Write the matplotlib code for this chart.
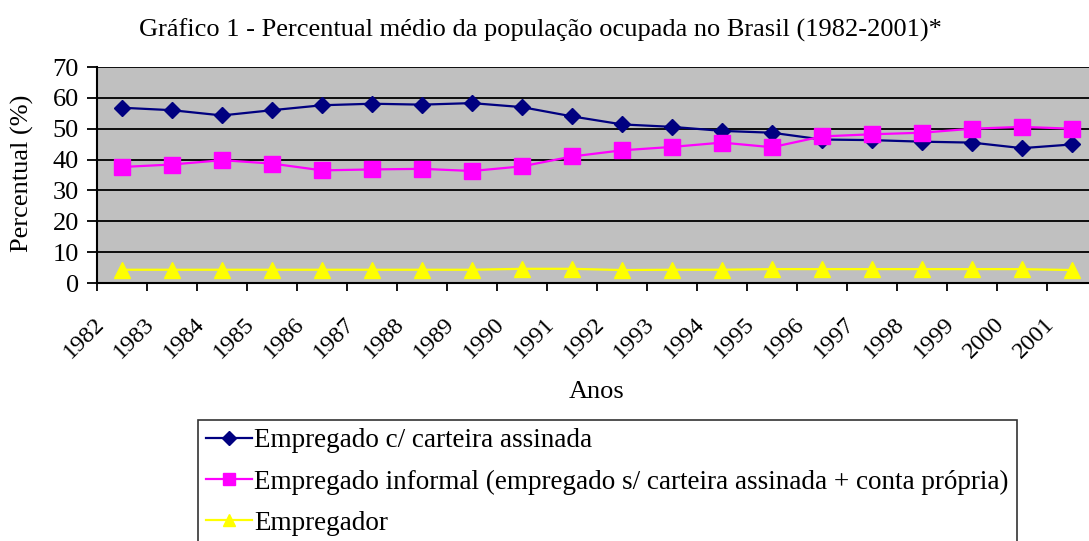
import matplotlib
matplotlib.use('Agg')
import matplotlib.pyplot as plt
from matplotlib.transforms import ScaledTranslation

plt.rcParams['font.family'] = ['Liberation Serif', 'DejaVu Serif']

anos = ['1982', '1983', '1984', '1985', '1986', '1987', '1988', '1989', '1990', '1991',
        '1992', '1993', '1994', '1995', '1996', '1997', '1998', '1999', '2000', '2001']
com_carteira = [56.8, 56.0, 54.3, 56.0, 57.6, 58.1, 57.8, 58.3, 57.0, 54.0,
                51.4, 50.6, 49.3, 48.7, 46.5, 46.3, 45.8, 45.5, 43.7, 44.9]
informal = [37.6, 38.4, 39.8, 38.7, 36.5, 36.8, 37.0, 36.3, 37.8, 41.0,
            43.0, 44.1, 45.5, 44.0, 47.5, 48.2, 48.7, 50.0, 50.6, 50.0]
empregador = [4.3, 4.3, 4.3, 4.3, 4.3, 4.3, 4.3, 4.3, 4.6, 4.6,
              4.2, 4.3, 4.3, 4.5, 4.5, 4.5, 4.5, 4.5, 4.5, 4.2]

FS = 19
W, H = 1089, 541
fig = plt.figure(figsize=(W / 100, H / 100), dpi=100)
ax = fig.add_axes([97 / W, 1 - 283 / H, 1000 / W, 216 / H])
ax.set_facecolor('#C0C0C0')

x = list(range(len(anos)))
ax.plot(x, com_carteira, color='#000080', lw=1.6, marker='D', ms=7.8,
        label='Empregado c/ carteira assinada', zorder=3)
ax.plot(x, informal, color='#FF00FF', lw=1.6, marker='s', ms=11,
        label='Empregado informal (empregado s/ carteira assinada + conta própria)', zorder=3)
ax.plot(x, empregador, color='#FFFF00', lw=1.6, marker='^', ms=11,
        label='Empregador', zorder=3)

ax.set_xlim(-0.5, len(anos) - 0.5)
ax.set_ylim(0, 70)
ax.set_yticks(range(0, 71, 10))
ax.yaxis.grid(True, color='black', lw=1.3)
ax.set_axisbelow(True)
for s in ['top', 'right']:
    ax.spines[s].set_visible(False)
for s in ['left', 'bottom']:
    ax.spines[s].set_linewidth(1.5)

# ticks on category boundaries, labels on minor ticks
ax.set_xticks([i - 0.5 for i in range(len(anos) + 1)])
ax.set_xticklabels([])
ax.set_xticks(x, minor=True)
ax.set_xticklabels(anos, minor=True, rotation=45, ha='right', rotation_mode='anchor',
                   va='center', fontsize=17.5)
ax.tick_params(axis='x', which='major', length=6, width=1.3, direction='out')
ax.tick_params(axis='x', which='minor', length=0, pad=27)
for lbl in ax.get_xticklabels(minor=True):
    lbl.set_transform(lbl.get_transform() + ScaledTranslation(-0.21, 0, fig.dpi_scale_trans))
ax.tick_params(axis='y', length=7, width=1.3, labelsize=FS, pad=6)

fig.text(22 / W, 1 - 173 / H, 'Percentual (%)', rotation=90, ha='center', va='center',
         fontsize=FS)
fig.text(597 / W, 1 - 398 / H, 'Anos', ha='center', va='baseline', fontsize=FS)
fig.text(540 / W, 1 - 37 / H,
         'Gráfico 1 - Percentual médio da população ocupada no Brasil (1982-2001)*',
         ha='center', va='baseline', fontsize=FS)

leg = fig.legend(loc='upper left', bbox_to_anchor=(198 / W, 1 - 420 / H),
                 frameon=True, fancybox=False, edgecolor='black', fontsize=19.5,
                 handlelength=1.7, handletextpad=0.08, borderpad=0.3, labelspacing=0.6,
                 borderaxespad=0)
leg.get_frame().set_linewidth(1.2)
for h in leg.legend_handles:
    h.set_markersize(h.get_markersize() * 0.85)

fig.savefig('out.png', dpi=100)
